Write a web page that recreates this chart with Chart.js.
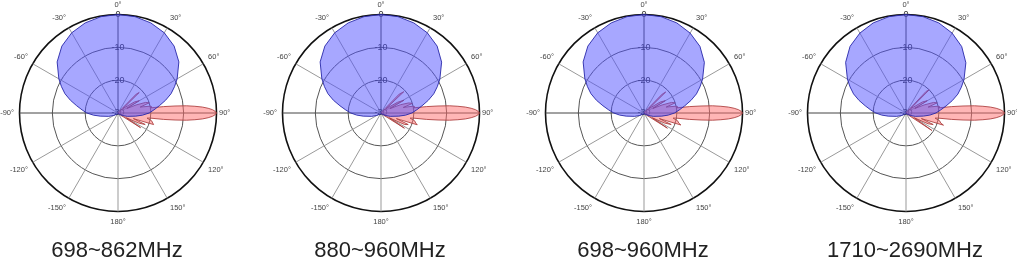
<!DOCTYPE html>
<html>
<head>
<meta charset="utf-8">
<script src="https://cdn.jsdelivr.net/npm/chart.js@4/dist/chart.umd.min.js"></script>
<style>
  html, body { margin: 0; padding: 0; background: #fff; overflow: hidden; }
  #wrap { position: relative; width: 1017px; height: 267px; overflow: hidden; }
  .cell { position: absolute; top: 0px; width: 250px; height: 267px; }
</style>
</head>
<body>
<div id="wrap">
  <div class="cell" style="left:-8px"><canvas id="c0" width="250" height="267"></canvas></div>
  <div class="cell" style="left:255px"><canvas id="c1" width="250" height="267"></canvas></div>
  <div class="cell" style="left:518px"><canvas id="c2" width="250" height="267"></canvas></div>
  <div class="cell" style="left:780px"><canvas id="c3" width="250" height="267"></canvas></div>
</div>
<script>
// ---- data ----
const bandTitles = ['698~862MHz', '880~960MHz', '698~960MHz', '1710~2690MHz'];
const angleTickLabels = ['0°','30°','60°','90°','120°','150°','180°','-150°','-120°','-90°','-60°','-30°'];
const gainTicks = [-30, -20, -10, 0];

// horizontal (azimuth) patterns: [angle deg, dB]
const blue1 = [[-180,-29.8],[-135,-29.5],[-120,-28.5],[-110,-27],[-100,-24.5],[-95,-22.5],[-90,-20.5],[-85,-19],[-80,-17.2],[-75,-15],[-70,-12.8],[-65,-11],[-60,-9.2],[-50,-5.8],[-40,-3.4],[-30,-1.8],[-20,-0.8],[-10,-0.2],[0,0],[10,-0.2],[20,-0.8],[30,-1.8],[40,-3.4],[50,-5.8],[60,-9.2],[65,-11],[70,-12.8],[75,-15],[80,-17.2],[85,-19],[90,-20.5],[95,-22.5],[100,-24.5],[110,-27],[120,-28.5],[135,-29.5]];
const blue2 = [[-180,-29.8],[-135,-29.5],[-120,-28.5],[-110,-27],[-100,-24.5],[-95,-22.6],[-90,-20.8],[-85,-19.2],[-80,-17.3],[-75,-15],[-70,-12.8],[-65,-11],[-60,-9.2],[-50,-5.8],[-40,-3.4],[-30,-1.8],[-20,-0.8],[-10,-0.2],[0,0],[10,-0.2],[20,-0.8],[30,-1.8],[40,-3.4],[50,-5.9],[60,-9.3],[65,-11.1],[70,-12.9],[75,-15.1],[80,-17.3],[85,-19.1],[90,-20.6],[95,-22.5],[100,-24.5],[110,-27],[120,-28.5],[135,-29.5]];
const blue3 = [[-180,-29.8],[-135,-29.5],[-120,-28.5],[-110,-27],[-100,-24.5],[-95,-22.6],[-90,-20.8],[-85,-19.2],[-80,-17.3],[-75,-15],[-70,-12.8],[-65,-11],[-60,-9.2],[-50,-5.8],[-40,-3.4],[-30,-1.8],[-20,-0.8],[-10,-0.2],[0,0],[10,-0.2],[20,-0.8],[30,-1.9],[40,-3.5],[50,-6],[60,-9.4],[65,-11.2],[70,-13],[75,-15.2],[80,-17.4],[85,-19.2],[90,-20.7],[95,-22.6],[100,-24.5],[110,-27],[120,-28.5],[135,-29.5]];
const blue4 = [[-180,-29.8],[-135,-29.5],[-120,-28.5],[-110,-27],[-100,-24.5],[-95,-22.6],[-90,-20.8],[-85,-19.2],[-80,-17.4],[-75,-15.2],[-70,-13],[-65,-11.2],[-60,-9.4],[-50,-6],[-40,-3.5],[-30,-1.9],[-20,-0.8],[-10,-0.2],[0,0],[10,-0.2],[20,-0.8],[30,-1.9],[40,-3.6],[50,-6.2],[60,-9.6],[65,-11.4],[70,-13.2],[75,-15.4],[80,-17.6],[85,-19.4],[90,-20.9],[95,-22.7],[100,-24.6],[110,-27],[120,-28.5],[135,-29.5]];

// vertical (elevation) patterns: [angle deg, dB]
const red1 = [[-180,-30],[0,-30],[40,-29],[44,-22],[46,-21],[48,-28],[52,-27],[56,-24],[60,-22.5],[63,-27],[66,-24],[69,-21],[72,-20],[75,-23],[78,-20],[80,-19.5],[81,-20],[82,-16],[83,-12.5],[84,-9],[85,-6.5],[86,-4.2],[87,-2.5],[88,-1.2],[89,-0.4],[90,0],[91,-0.4],[92,-1.2],[93,-2.5],[94,-4.2],[95,-6.5],[96,-9],[97,-12.5],[98,-16],[99,-20],[100,-21],[103,-19.5],[106,-19],[108,-18.6],[110,-25],[113,-21],[116,-23],[120,-27],[123,-21.8],[126,-28],[130,-29],[160,-30]];
const red2 = [[-180,-30],[0,-30],[40,-29],[44,-22],[47,-20.5],[49,-28],[53,-27],[57,-24],[61,-22],[64,-27],[67,-23.5],[70,-21],[73,-20],[76,-23],[78,-20],[80,-19.5],[81,-20],[82,-16],[83,-12.5],[84,-9],[85,-6.5],[86,-4.2],[87,-2.5],[88,-1.2],[89,-0.4],[90,0],[91,-0.4],[92,-1.2],[93,-2.5],[94,-4.2],[95,-6.5],[96,-9],[97,-12.5],[98,-16],[99,-20],[100,-21],[103,-19.5],[106,-19],[108,-18.4],[110,-25],[113,-21],[116,-22],[120,-27],[123,-21.5],[126,-28],[130,-29],[160,-30]];
const red3 = [[-180,-30],[0,-30],[40,-29],[44,-22],[46,-20.8],[48,-28],[52,-27],[56,-24],[60,-22.5],[63,-27],[66,-24],[69,-21],[72,-20],[75,-23],[78,-20],[80,-19.5],[81,-20],[82,-16],[83,-12.5],[84,-9],[85,-6.5],[86,-4.2],[87,-2.5],[88,-1.2],[89,-0.4],[90,0],[91,-0.4],[92,-1.2],[93,-2.5],[94,-4.2],[95,-6.5],[96,-9],[97,-12.5],[98,-16],[99,-20],[100,-21],[103,-19.5],[106,-19],[108,-18.2],[110,-25],[113,-21],[116,-23],[120,-27],[123,-21.5],[126,-28],[130,-29],[160,-30]];
const red4 = [[-180,-30],[0,-30],[40,-29],[43,-21],[45,-20],[47,-28],[52,-27],[56,-24],[60,-22.5],[63,-27],[66,-24],[69,-21],[72,-20],[75,-23],[78,-20],[80,-19.5],[81,-20],[82,-16],[83,-12.5],[84,-9],[85,-6.5],[86,-4.2],[87,-2.5],[88,-1.2],[89,-0.4],[90,0],[91,-0.4],[92,-1.2],[93,-2.5],[94,-4.2],[95,-6.5],[96,-9],[97,-12.5],[98,-16],[99,-20],[100,-21],[103,-19.5],[106,-19],[108,-18],[110,-25],[113,-21],[116,-22.5],[120,-27],[124,-20.5],[127,-28],[130,-29],[160,-30]];

const bluePatterns = [blue1, blue2, blue3, blue4];
const redPatterns = [red1, red2, red3, red4];

// ---- build charts ----
const N = 360;
const labels = [];
for (let i = 0; i < N; i++) labels.push(i % 30 === 0 ? angleTickLabels[i / 30] : '');

function toSeries(pairs) {
  const arr = new Array(N).fill(null);
  pairs.forEach(([a, v]) => { arr[((Math.round(a) % 360) + 360) % 360] = v; });
  return arr;
}

const FONT = "'Liberation Sans', Arial, sans-serif";

for (let k = 0; k < 4; k++) {
  new Chart(document.getElementById('c' + k), {
    type: 'radar',
    data: {
      labels: labels,
      datasets: [
        {
          data: toSeries(bluePatterns[k]),
          backgroundColor: 'rgba(80,80,255,0.5)',
          borderColor: 'rgba(40,40,170,0.9)',
          borderWidth: 1,
          fill: 'start',
          spanGaps: true,
          tension: 0,
          pointRadius: 0
        },
        {
          data: toSeries(redPatterns[k]),
          backgroundColor: 'rgba(255,110,110,0.5)',
          borderColor: 'rgba(170,60,60,0.85)',
          borderWidth: 1,
          fill: 'start',
          spanGaps: true,
          tension: 0,
          pointRadius: 0
        }
      ]
    },
    options: {
      responsive: false,
      animation: false,
      devicePixelRatio: 1,
      layout: { padding: 0 },
      plugins: {
        legend: { display: false },
        tooltip: { enabled: false },
        title: {
          display: true,
          position: 'bottom',
          text: bandTitles[k],
          color: '#222',
          font: { family: FONT, size: 22, weight: 'normal', lineHeight: 1.2 },
          padding: { top: 10.8, bottom: 2.8 }
        }
      },
      scales: {
        r: {
          min: gainTicks[0],
          max: gainTicks[gainTicks.length - 1],
          ticks: {
            stepSize: 10,
            showLabelBackdrop: false,
            backdropPadding: 0,
            color: '#333',
            font: { family: FONT, size: 9 },
            callback: v => String(v)
          },
          grid: {
            circular: true,
            color: ctx => ctx.index === gainTicks.length - 1 ? '#111' : '#555',
            lineWidth: ctx => ctx.index === gainTicks.length - 1 ? 1.6 : 1
          },
          angleLines: {
            display: true,
            color: ctx => (ctx.index === 0 || ctx.index === 90 || ctx.index === 270) ? '#444' : '#999',
            lineWidth: ctx => (ctx.index % 30 === 0 ? 1 : 0)
          },
          pointLabels: {
            display: true,
            color: '#444',
            padding: ctx => (ctx.index === 90 ? -2 : 1),
            font: { family: FONT, size: 7.5, lineHeight: 1.2 }
          }
        }
      }
    }
  });
}
</script>
</body>
</html>
